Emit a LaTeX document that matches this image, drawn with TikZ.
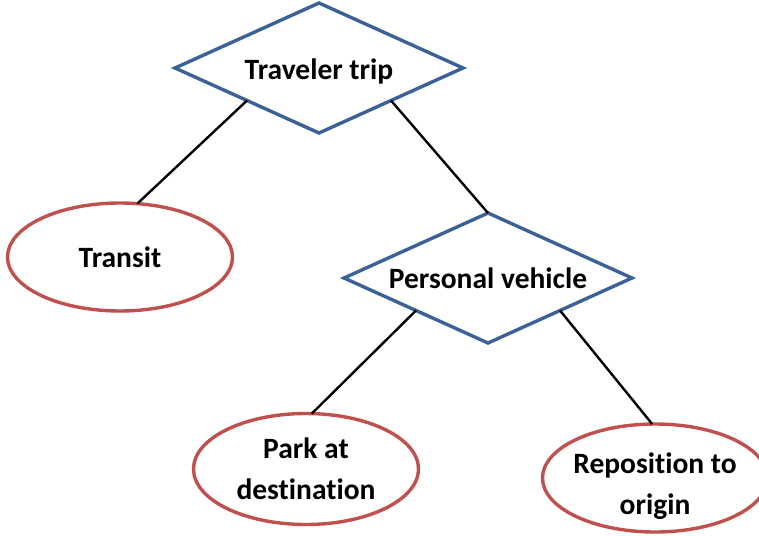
\documentclass[tikz,border=0pt]{standalone}
\usepackage{fontspec}
\setmainfont{Carlito}[Ligatures=NoCommon]
\usetikzlibrary{shapes.geometric}
\definecolor{choiceblue}{HTML}{3A6296}
\definecolor{modered}{HTML}{C0504D}

\begin{document}
\begin{tikzpicture}[x=1pt,y=-1pt,
  choice/.style={diamond,draw=choiceblue,line width=3.4pt,aspect=2.2,inner sep=0pt,outer sep=0pt,minimum width=288pt,minimum height=130pt,font=\bfseries\fontsize{29.5}{41}\selectfont},
  mode/.style={ellipse,draw=modered,line width=3.4pt,inner sep=0pt,outer sep=0pt,minimum width=225pt,minimum height=108pt,align=center,font=\bfseries\fontsize{29.5}{41}\selectfont},
  lowtext/.style={execute at begin node={\rule{0pt}{#1}}},
  link/.style={line width=2.4pt}]
\useasboundingbox (0,0) rectangle (759,535);
\node[choice,lowtext=28pt] (trip) at (319,68) {Traveler trip};
\node[mode] (transit) at (120,257) {Transit};
\node[choice] (vehicle) at (488,278) {Personal vehicle};
\node[mode,minimum height=111pt] (park) at (306,469) {Park at\\destination};
\node[mode,inner sep=-8pt] (repos) at (655,478) {\rule{0pt}{37pt}Reposition to\\origin};
\draw[link] (trip.south west) -- (transit.72);
\draw[link] (trip.south east) -- (vehicle.north);
\draw[link] (vehicle.south west) -- (park.84);
\draw[link] (vehicle.south east) -- (repos.93);
\end{tikzpicture}
\end{document}
